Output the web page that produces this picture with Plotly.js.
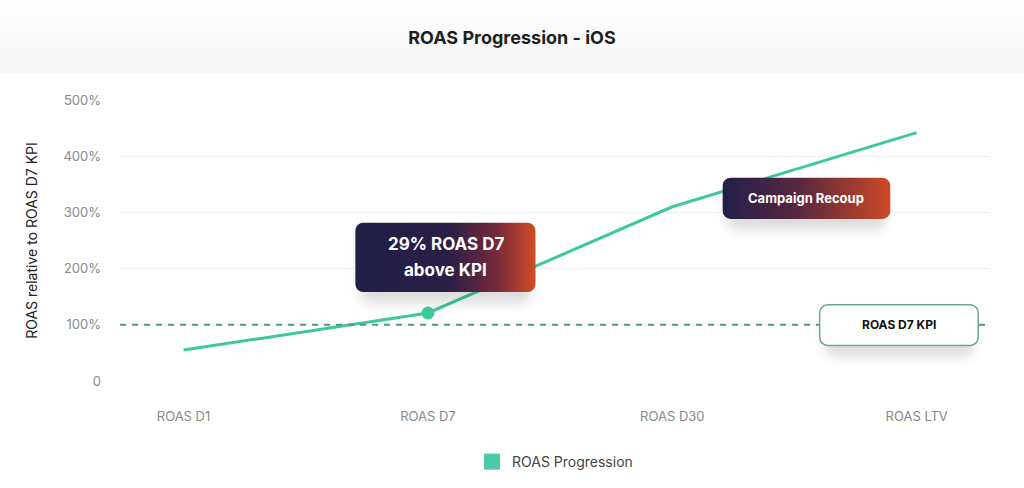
<!DOCTYPE html>
<html>
<head>
<meta charset="utf-8">
<script src="https://cdn.plot.ly/plotly-3.0.1.min.js"></script>
<style>
  html, body { margin: 0; padding: 0; background: #fff; }
  #chart { width: 1024px; height: 488px; }
</style>
</head>
<body>
<div id="chart"></div>
<script>
// ROAS progression values (% of D7 KPI)
const categories = ['ROAS D1', 'ROAS D7', 'ROAS D30', 'ROAS LTV'];
const roasValues = [55, 121, 310, 442];
const kpiValue = 100;
const yTickVals = [0, 100, 200, 300, 400, 500];
const yTickText = ['0', '100%', '200%', '300%', '400%', '500%'];

const LINE_GREEN = '#3fc89c';
const FONT = 'Inter, "Open Sans", sans-serif';

// plot geometry, used only to size the callout boxes in pixels
const X_RANGE = [-0.26, 3.3];
const PX_PER_X = 870 / (X_RANGE[1] - X_RANGE[0]);
const PX_PER_Y = 281 / 500;

// KPI label box extent (category units), the dashed line stops at its edges
const KPI_BOX = [2.60, 3.255];

function svgUri(svg) {
    return 'data:image/svg+xml;charset=utf-8,' + encodeURIComponent(svg);
}

// rounded callout with soft shadow, returned as a layout image sitting on data coords
function callout(x0, x1, yTop, yBot, fillDef, fill, stroke) {
    const w = (x1 - x0) * PX_PER_X;
    const h = (yTop - yBot) * PX_PER_Y;
    const padX = 14, padT = 6, padB = 22;
    const W = w + 2 * padX, H = h + padT + padB;
    const svg =
        `<svg xmlns="http://www.w3.org/2000/svg" width="${W}" height="${H}" viewBox="0 0 ${W} ${H}">` +
        `<defs>${fillDef}` +
        `<filter id="sh" x="-30%" y="-30%" width="160%" height="190%">` +
        `<feGaussianBlur stdDeviation="6"/></filter></defs>` +
        `<rect x="${padX + 6}" y="${padT + 10}" width="${w - 12}" height="${h}" rx="8" fill="rgba(0,0,0,0.14)" filter="url(#sh)"/>` +
        `<rect x="${padX + 0.75}" y="${padT + 0.75}" width="${w - 1.5}" height="${h - 1.5}" rx="8" fill="${fill}"` +
        (stroke ? ` stroke="${stroke}" stroke-width="1.5"` : '') + `/></svg>`;
    return {
        source: svgUri(svg),
        xref: 'x', yref: 'y',
        x: x0 - padX / PX_PER_X,
        y: yTop + padT / PX_PER_Y,
        sizex: W / PX_PER_X,
        sizey: H / PX_PER_Y,
        xanchor: 'left', yanchor: 'top',
        sizing: 'stretch',
        layer: 'above'
    };
}

const gradSharp = '<linearGradient id="g" x1="0" y1="0" x2="1" y2="0">' +
    '<stop offset="0" stop-color="#211e48"/><stop offset="0.52" stop-color="#2a1f45"/>' +
    '<stop offset="0.78" stop-color="#74293a"/><stop offset="1" stop-color="#d04b24"/></linearGradient>';
const gradSoft = '<linearGradient id="g" x1="0" y1="0" x2="1" y2="0">' +
    '<stop offset="0" stop-color="#221f4b"/><stop offset="0.45" stop-color="#58273f"/>' +
    '<stop offset="1" stop-color="#cc4926"/></linearGradient>';

const headerBand = svgUri(
    '<svg xmlns="http://www.w3.org/2000/svg" width="100" height="100" preserveAspectRatio="none">' +
    '<defs><linearGradient id="h" x1="0" y1="0" x2="0" y2="1">' +
    '<stop offset="0" stop-color="#ffffff"/><stop offset="0.5" stop-color="#fafafa"/>' +
    '<stop offset="1" stop-color="#f6f6f6"/></linearGradient></defs>' +
    '<rect width="100" height="100" fill="url(#h)"/></svg>');

const roasTrace = {
    x: categories,
    y: roasValues,
    type: 'scatter',
    mode: 'lines',
    line: { color: LINE_GREEN, width: 3 },
    showlegend: false,
    hoverinfo: 'skip'
};

// highlighted point at D7
const d7Point = {
    x: [categories[1]],
    y: [roasValues[1]],
    type: 'scatter',
    mode: 'markers',
    marker: { color: LINE_GREEN, size: 13 },
    showlegend: false,
    hoverinfo: 'skip'
};

// legend only entry, square swatch
const legendEntry = {
    x: [null], y: [null],
    type: 'scatter',
    mode: 'markers',
    name: 'ROAS Progression',
    marker: { color: '#4cc9a6', symbol: 'square', size: 16 }
};

const kpiLine = { color: '#4a9c7c', width: 2, dash: '6px,6px' };

const layout = {
    width: 1024,
    height: 488,
    paper_bgcolor: '#ffffff',
    plot_bgcolor: '#ffffff',
    font: { family: FONT, color: '#888' },
    margin: { l: 120, r: 34, t: 100, b: 107 },
    title: {
        text: '<b>ROAS Progression - iOS</b>',
        font: { family: FONT, size: 18, color: '#1e1e1e' },
        x: 0.5, xanchor: 'center',
        yref: 'container', y: 1 - 38 / 488, yanchor: 'middle'
    },
    xaxis: {
        type: 'category',
        range: X_RANGE,
        showgrid: false,
        zeroline: false,
        showline: false,
        ticks: '',
        ticklabelstandoff: 26,
        tickfont: { family: FONT, size: 13, color: '#8a8a8a' },
        fixedrange: true
    },
    yaxis: {
        range: [0, 500],
        tickvals: yTickVals,
        ticktext: yTickText,
        showgrid: true,
        gridcolor: '#f0f0f0',
        gridwidth: 1,
        zeroline: false,
        showline: false,
        ticks: '',
        ticklabelstandoff: 18,
        tickfont: { family: FONT, size: 13, color: '#8a8a8a' },
        title: {
            text: 'ROAS relative to ROAS D7 KPI',
            font: { family: FONT, size: 14, color: '#222' },
            standoff: 22
        },
        fixedrange: true
    },
    legend: {
        orientation: 'h',
        x: 0.5, xanchor: 'center',
        yref: 'container', y: 1 - 462 / 488, yanchor: 'middle',
        font: { family: FONT, size: 14, color: '#444' }
    },
    shapes: [
        {
            type: 'line', xref: 'x', yref: 'y',
            x0: X_RANGE[0], x1: KPI_BOX[0], y0: kpiValue, y1: kpiValue,
            line: kpiLine, layer: 'above'
        },
        {
            type: 'line', xref: 'x', yref: 'y',
            x0: KPI_BOX[1], x1: X_RANGE[1], y0: kpiValue, y1: kpiValue,
            line: kpiLine, layer: 'above'
        }
    ],
    images: [
        {
            source: headerBand,
            xref: 'paper', yref: 'paper',
            x: -120 / 870, y: 1 + 100 / 281,
            sizex: 1024 / 870, sizey: 74 / 281,
            xanchor: 'left', yanchor: 'top',
            sizing: 'stretch', layer: 'below'
        },
        callout(0.70, 1.443, 283, 157, gradSharp, 'url(#g)'),
        callout(2.203, 2.895, 363, 287, gradSoft, 'url(#g)'),
        callout(KPI_BOX[0], KPI_BOX[1], 137, 62, '', '#ffffff', '#6aa98a')
    ],
    annotations: [
        {
            x: 1.072, y: 243, xref: 'x', yref: 'y',
            text: '<b>29% ROAS D7</b>',
            showarrow: false,
            font: { family: FONT, size: 17, color: '#ffffff' }
        },
        {
            x: 1.072, y: 197, xref: 'x', yref: 'y',
            text: '<b>above KPI</b>',
            showarrow: false,
            font: { family: FONT, size: 17, color: '#ffffff' }
        },
        {
            x: 2.549, y: 325, xref: 'x', yref: 'y',
            text: '<b>Campaign Recoup</b>',
            showarrow: false,
            font: { family: FONT, size: 13, color: '#ffffff' }
        },
        {
            x: 2.928, y: 100, xref: 'x', yref: 'y',
            text: '<b>ROAS D7 KPI</b>',
            showarrow: false,
            font: { family: FONT, size: 12, color: '#111' }
        }
    ]
};

Plotly.newPlot('chart', [roasTrace, d7Point, legendEntry], layout, { displayModeBar: false, staticPlot: true });
</script>
</body>
</html>
